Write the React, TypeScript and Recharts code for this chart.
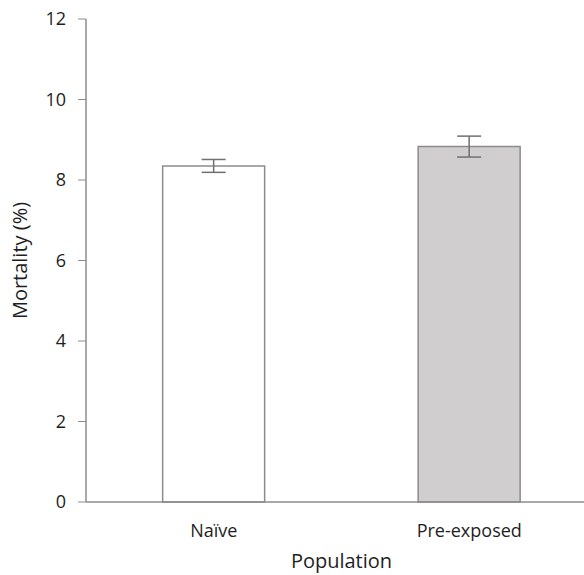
import React from "react";
import { BarChart, Bar, XAxis, YAxis, Cell, ErrorBar } from "recharts";

const populations = ["Naïve", "Pre-exposed"];
const mortality = [8.35, 8.83];
const mortalityErr = [0.16, 0.26];
const barFills = ["#ffffff", "#d0cece"];
const yTicks = [0, 2, 4, 6, 8, 10, 12];

const data = populations.map((name, i) => ({ name, value: mortality[i], err: mortalityErr[i] }));

const AXIS = "#8c8c8c";
const TEXT = "#1e1e1e";
const FONT = "'Open Sans', sans-serif";

export default function App() {
  // pinned to the page corner so the svg covers the whole viewport
  return (
    <div style={{ position: "fixed", top: 0, left: 0, width: 584, height: 575, overflow: "hidden", background: "#fff" }}>
      <BarChart
        width={608}
        height={575}
        data={data}
        margin={{ top: 19, right: 11, bottom: 0, left: 0 }}
        barCategoryGap="30%"
        style={{ fontFamily: FONT }}
      >
        <XAxis
          dataKey="name"
          tickLine={false}
          axisLine={{ stroke: AXIS, strokeWidth: 1.5 }}
          tick={{ fontSize: 18, fill: TEXT }}
          tickMargin={16}
          height={73}
          label={{ value: "Population", position: "insideBottom", offset: 7, fontSize: 20, fill: TEXT }}
        />
        <YAxis
          domain={[0, 12]}
          ticks={yTicks}
          interval={0}
          width={86}
          tickSize={8}
          tickMargin={12}
          tickLine={{ stroke: AXIS }}
          axisLine={{ stroke: AXIS, strokeWidth: 1.5 }}
          tick={{ fontSize: 18, fill: TEXT }}
          label={{
            value: "Mortality (%)",
            angle: -90,
            position: "insideLeft",
            offset: 20,
            fontSize: 20,
            fill: TEXT,
            style: { textAnchor: "middle" },
          }}
        />
        <Bar dataKey="value" stroke={AXIS} strokeWidth={1.5} isAnimationActive={false}>
          {data.map((d, i) => (
            <Cell key={d.name} fill={barFills[i]} />
          ))}
          <ErrorBar dataKey="err" width={12} stroke="#707070" strokeWidth={1.5} />
        </Bar>
      </BarChart>
    </div>
  );
}
